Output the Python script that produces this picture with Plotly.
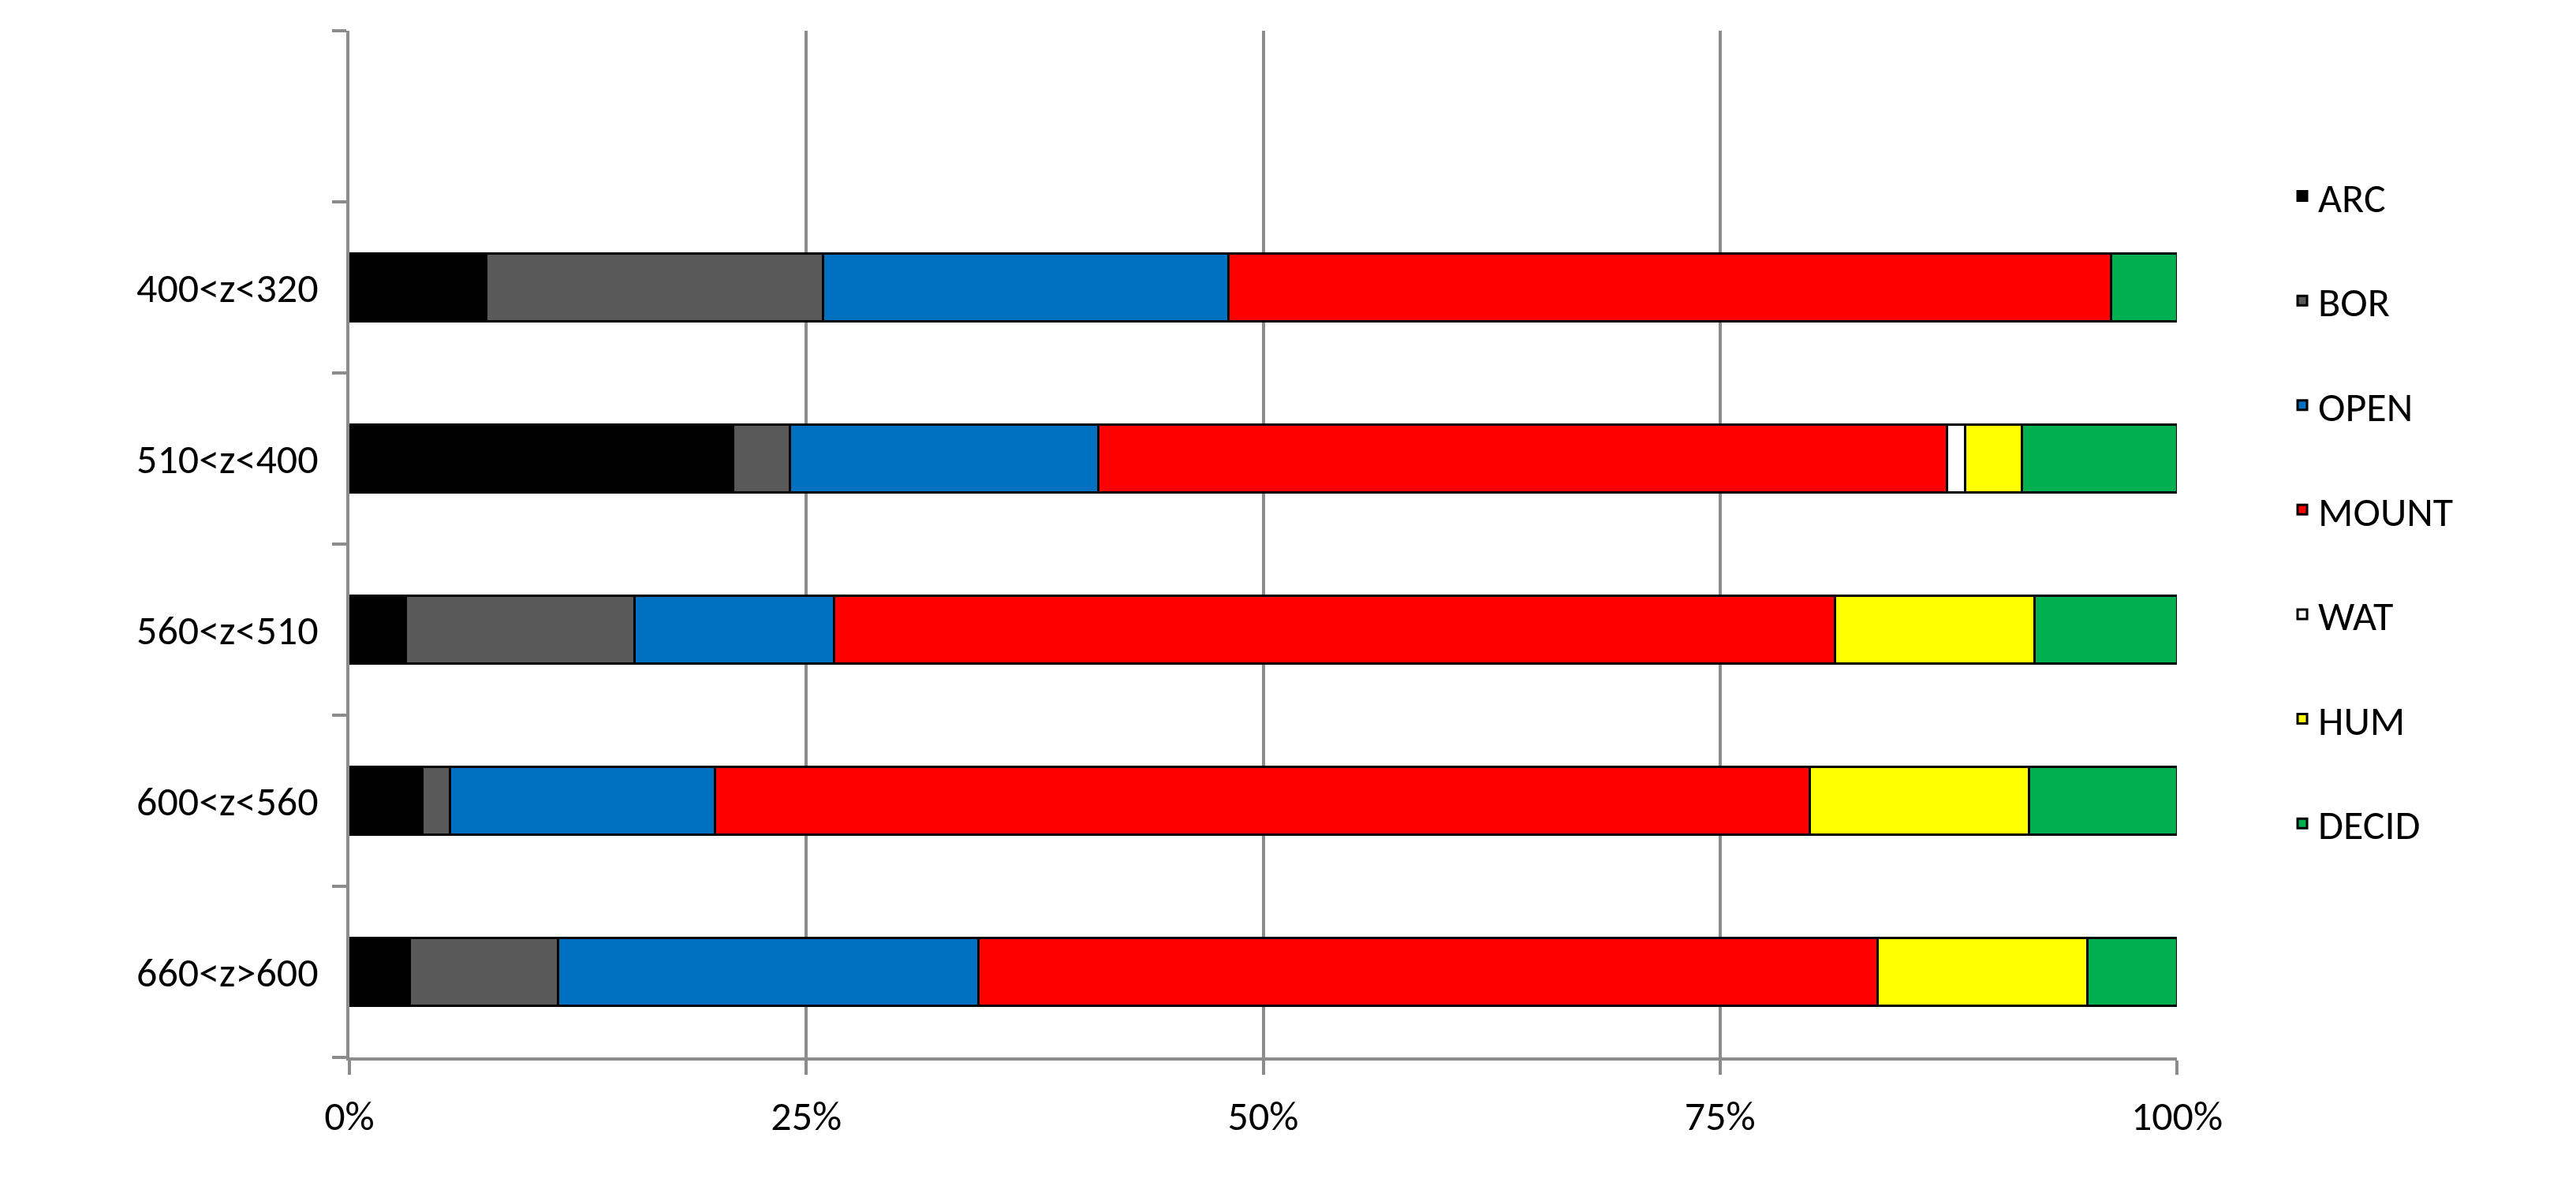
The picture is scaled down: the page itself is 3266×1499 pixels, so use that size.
import plotly.graph_objects as go

categories = ["660<z>600", "600<z<560", "560<z<510", "510<z<400", "400<z<320"]
series = ["ARC", "BOR", "OPEN", "MOUNT", "WAT", "HUM", "DECID"]
colors = ["#000000", "#595959", "#0070C0", "#FF0000", "#FFFFFF", "#FFFF00", "#00B050"]
ARC   = [3.3, 4.0, 3.1, 21.0, 7.5]
BOR   = [8.1, 1.5, 12.5, 3.1, 18.4]
OPEN  = [23.0, 14.5, 10.9, 16.9, 22.2]
MOUNT = [49.2, 59.9, 54.8, 46.4, 48.3]
WAT   = [0.0, 0.0, 0.0, 1.0, 0.0]
HUM   = [11.5, 12.0, 10.9, 3.1, 0.0]
DECID = [4.9, 8.1, 7.8, 8.5, 3.6]
values = [ARC, BOR, OPEN, MOUNT, WAT, HUM, DECID]
xticks = [0, 25, 50, 75, 100]
xticklabels = ["0%", "25%", "50%", "75%", "100%"]

fig = go.Figure()
for name, col, v in zip(series, colors, values):
    fig.add_trace(go.Bar(
        y=list(range(len(categories))), x=v, name=name, orientation="h",
        marker=dict(color=col, line=dict(color="#000000", width=3)),
        width=0.4, legendgroup=name))

fig.update_layout(
    barmode="stack", width=3266, height=1499,
    paper_bgcolor="white", plot_bgcolor="white",
    margin=dict(l=435, r=514, t=31, b=166),
    font=dict(family="Calibri, Carlito, Liberation Sans, sans-serif", size=52, color="#000"),
    legend=dict(x=1.06, y=0.87, yanchor="top", xanchor="left", tracegroupgap=62,
                font=dict(size=52), itemwidth=30),
    showlegend=True,
)
fig.update_xaxes(range=[0, 100], tickvals=xticks, ticktext=xticklabels,
                 showgrid=True, gridcolor="#8C8C8C", gridwidth=4,
                 showline=True, linecolor="#8C8C8C", linewidth=4,
                 ticks="outside", ticklen=18, tickcolor="#8C8C8C", tickwidth=4,
                 zeroline=False, ticklabelstandoff=8)
fig.update_yaxes(range=[-0.5, 5.5], tickvals=list(range(len(categories))), ticktext=categories,
                 showgrid=False, showline=True, linecolor="#8C8C8C", linewidth=4,
                 ticks="", zeroline=False, ticklabelstandoff=25,
                 minor=dict(tick0=0.5, dtick=1, ticks="outside", ticklen=18,
                            tickcolor="#8C8C8C", tickwidth=4, showgrid=False))
fig.write_html("out.html")
